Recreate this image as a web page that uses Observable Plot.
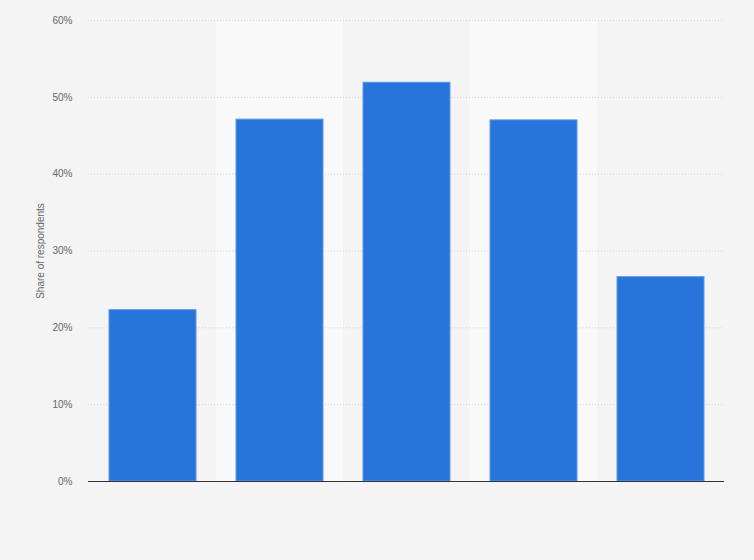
<!DOCTYPE html>
<html>
<head>
<meta charset="utf-8">
<script src="https://cdn.jsdelivr.net/npm/d3@7"></script>
<script src="https://cdn.jsdelivr.net/npm/@observablehq/plot@0.6"></script>
<style>
  html, body { margin: 0; padding: 0; background: #f4f4f4; }
  #chart svg { display: block; }
</style>
</head>
<body>
<div id="chart"></div>
<script>
const categories = ["Category 1", "Category 2", "Category 3", "Category 4", "Category 5"];
const shares = [22.3, 47.1, 51.9, 47.0, 26.6];
const yTicks = [0, 10, 20, 30, 40, 50, 60];

const data = categories.map((c, i) => ({category: c, share: shares[i]}));
const bands = categories.filter((c, i) => i % 2 === 1);

const chart = Plot.plot({
  width: 754,
  height: 560,
  marginTop: 20,
  marginBottom: 79,
  marginLeft: 88,
  marginRight: 30,
  style: {background: "#f4f4f4", fontFamily: "'Liberation Sans', Arial, sans-serif", fontSize: "10px", color: "#666"},
  x: {domain: categories, padding: 0, axis: null},
  y: {domain: [0, 60], ticks: yTicks, tickFormat: d => d + "%", label: "Share of respondents", labelAnchor: "center", labelArrow: false, labelOffset: 52, tickSize: 0, tickPadding: 16},
  marks: [
    Plot.barY(bands, {x: d => d, y1: 0, y2: 60, fill: "#f9f9f9"}),
    Plot.ruleY(yTicks.filter(t => t > 0), {stroke: "#cfcfcf", strokeDasharray: "1,2", strokeWidth: 1}),
    Plot.barY(data, {x: "category", y: "share", fill: "#2775db", stroke: "#5d9ae6", strokeWidth: 1, insetLeft: 20, insetRight: 20}),
    Plot.ruleY([0], {stroke: "#333", strokeWidth: 1.2}),
    Plot.axisY({ticks: yTicks, tickFormat: d => d + "%", tickSize: 0, tickPadding: 16, label: "Share of respondents", labelAnchor: "center", labelArrow: false, labelOffset: 52, fill: "#666"})
  ]
});
document.getElementById("chart").appendChild(chart);
</script>
</body>
</html>
